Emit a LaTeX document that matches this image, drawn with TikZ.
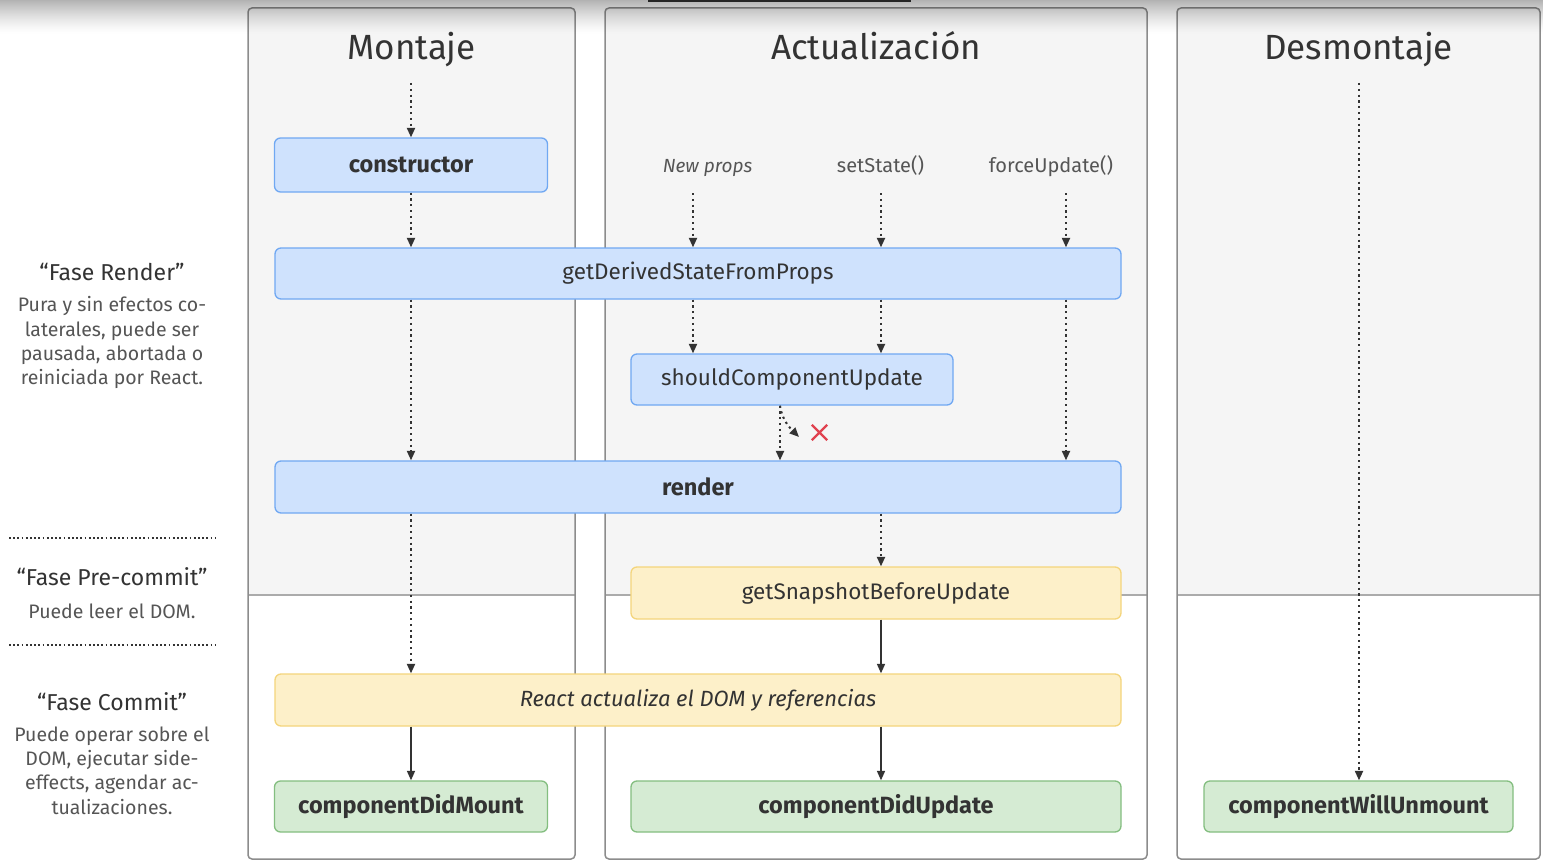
\documentclass[tikz,border=0pt]{standalone}
\usepackage{fontspec}
\setmainfont{Fira Sans}
\usetikzlibrary{arrows.meta,shapes.misc}
\definecolor{bluefill}{HTML}{CFE2FD}
\definecolor{blueline}{HTML}{70A8F2}
\definecolor{yelfill}{HTML}{FDF0C9}
\definecolor{yelline}{HTML}{F4D57C}
\definecolor{grnfill}{HTML}{D5EBD3}
\definecolor{grnline}{HTML}{84BE80}
\definecolor{colline}{HTML}{8C8C8C}
\definecolor{colfill}{HTML}{F5F5F5}
\definecolor{divline}{HTML}{ABABAB}
\definecolor{ink}{HTML}{333333}
\definecolor{softink}{HTML}{555555}
\definecolor{crossred}{HTML}{E0424F}
\begin{document}
\begin{tikzpicture}[x=1pt,y=-1pt,
  box/.style={rounded corners=6pt, line width=1.3pt, inner sep=0pt,
    text=ink, font=\fontsize{22.5}{26}\selectfont},
  boldlabel/.style={font=\fontsize{23.5}{27}\selectfont\bfseries},
  bluebox/.style={box, fill=bluefill, draw=blueline},
  yelbox/.style={box, fill=yelfill, draw=yelline},
  grnbox/.style={box, fill=grnfill, draw=grnline, boldlabel},
  column/.style={rounded corners=4pt, line width=1.5pt, draw=colline},
  title/.style={text=ink, anchor=base, font=\fontsize{35}{40}\selectfont},
  trigger/.style={text=softink, anchor=base, font=\fontsize{20}{24}\selectfont},
  phase/.style={text=ink, font=\fontsize{23}{27}\selectfont},
  phasetext/.style={text=softink, align=center, font=\fontsize{19.5}{24.3}\selectfont},
  tip/.style={-{Triangle[length=9.5pt,width=8pt]}},
  dotarrow/.style={tip, draw=ink, line width=2pt, dash pattern=on 2.2pt off 3.6pt},
  solidarrow/.style={tip, draw=ink, line width=1.6pt},
  sepline/.style={draw=ink, line width=1.8pt, dash pattern=on 1.8pt off 2.4pt},
]
\useasboundingbox (0,0) rectangle (1543,867);
\fill[white] (0,0) rectangle (1543,867);

% three lifecycle columns: grey render area above, white commit area below
\foreach \xa/\xb in {248/575,605/1147,1177/1540}{
  \begin{scope}
    \clip[rounded corners=4pt] (\xa,8) rectangle (\xb,859);
    \fill[colfill] (\xa,8) rectangle (\xb,595);
    \draw[divline, line width=1.3pt] (\xa,595) -- (\xb,595);
  \end{scope}
  \draw[column] (\xa,8) rectangle (\xb,859);
}

% column titles
\node[title] (tmount) at (411.5,60) {Montaje};
\node[title] (tupdate) at (876,60) {Actualización};
\node[title] (tunmount) at (1358.5,60) {Desmontaje};

% lifecycle methods
\node[bluebox, boldlabel, minimum width=273pt, minimum height=54pt] (ctor) at (411,165) {constructor};
\node[bluebox, minimum width=846pt, minimum height=51pt] (gdsfp) at (698,273.5) {getDerivedStateFromProps};
\node[bluebox, minimum width=322pt, minimum height=51pt] (scu) at (792,379.5) {shouldComponentUpdate};
\node[bluebox, boldlabel, minimum width=846pt, minimum height=52pt] (render) at (698,487) {render};
\node[yelbox, minimum width=490pt, minimum height=52pt] (gsbu) at (876,593) {getSnapshotBeforeUpdate};
\node[yelbox, minimum width=846pt, minimum height=52pt, font=\fontsize{22}{26}\selectfont\itshape] (dom) at (698,700) {React actualiza el DOM y referencias};
\node[grnbox, minimum width=273pt, minimum height=51pt] (cdm) at (411,806.5) {componentDidMount};
\node[grnbox, minimum width=490pt, minimum height=51pt] (cdu) at (876,806.5) {componentDidUpdate};
\node[grnbox, minimum width=309pt, minimum height=51pt] (cwu) at (1358.5,806.5) {componentWillUnmount};

% update triggers
\node[trigger, font=\fontsize{19}{23}\selectfont\itshape] (newprops) at (707.5,172) {New props};
\node[trigger] (setstate) at (880.5,172) {setState()};
\node[trigger] (forceupd) at (1051,172) {forceUpdate()};

\coordinate (mstart) at (411,83);
\coordinate (ustart) at (1359,83);
\coordinate (npA) at (693,193);
\coordinate (ssA) at (881,193);
\coordinate (fuA) at (1066,193);
\coordinate (scuout) at (780,405);
\coordinate (skip) at (799,437);

% mounting path
\draw[dotarrow] (mstart) -- (mstart |- ctor.north);
\draw[dotarrow] (ctor.south) -- (ctor.south |- gdsfp.north);
\draw[dotarrow] (ctor.south |- gdsfp.south) -- (ctor.south |- render.north);
\draw[dotarrow] (ctor.south |- render.south) -- (ctor.south |- dom.north);
\draw[solidarrow] (ctor.south |- dom.south) -- (cdm.north);

% updating path
\draw[dotarrow] (npA) -- (npA |- gdsfp.north);
\draw[dotarrow] (ssA) -- (ssA |- gdsfp.north);
\draw[dotarrow] (fuA) -- (fuA |- gdsfp.north);
\draw[dotarrow] (npA |- gdsfp.south) -- (npA |- scu.north);
\draw[dotarrow] (ssA |- gdsfp.south) -- (ssA |- scu.north);
\draw[dotarrow] (fuA |- gdsfp.south) -- (fuA |- render.north);
\draw[dotarrow] (scuout |- scu.south) -- (scuout |- render.north);
\draw[dotarrow] (scuout |- scu.south) .. controls (782,420) and (790,428) .. (skip);
\node[cross out, draw=crossred, line width=2.4pt, minimum size=13pt, inner sep=0pt] (nope) at (819.5,432.5) {};
\draw[dotarrow] (ssA |- render.south) -- (ssA |- gsbu.north);
\draw[solidarrow] (ssA |- gsbu.south) -- (ssA |- dom.north);
\draw[solidarrow] (ssA |- dom.south) -- (ssA |- cdu.north);

% unmounting path
\draw[dotarrow] (ustart) -- (ustart |- cwu.north);

% phase descriptions
\node[phase] (prender) at (112,272) {“Fase Render”};
\node[phasetext, anchor=north] (drender) at (112,293) {Pura y sin efectos co-\\laterales, puede ser\\pausada, abortada o\\reiniciada por React.};
\coordinate (sep1a) at (9,538);
\coordinate (sep1b) at (216,538);
\draw[sepline] (sep1a) -- (sep1b);
\node[phase] (pprecommit) at (112,577) {“Fase Pre-commit”};
\node[phasetext] (dprecommit) at (112,611) {Puede leer el DOM.};
\coordinate (sep2a) at (9,645);
\coordinate (sep2b) at (216,645);
\draw[sepline] (sep2a) -- (sep2b);
\node[phase] (pcommit) at (112,702) {“Fase Commit”};
\node[phasetext, anchor=north] (dcommit) at (112,723) {Puede operar sobre el\\DOM, ejecutar side-\\effects, agendar ac-\\tualizaciones.};

% soft shadow along the top edge and the dark strip above the middle
\foreach \i in {0,...,33}{
  \pgfmathsetmacro\op{0.3*(1-\i/34)^1.4}
  \fill[black, opacity=\op] (0,\i) rectangle (1543,\i+1.02);
}
\fill[ink!70!black] (648,0) rectangle (911,2.5);
\end{tikzpicture}
\end{document}
